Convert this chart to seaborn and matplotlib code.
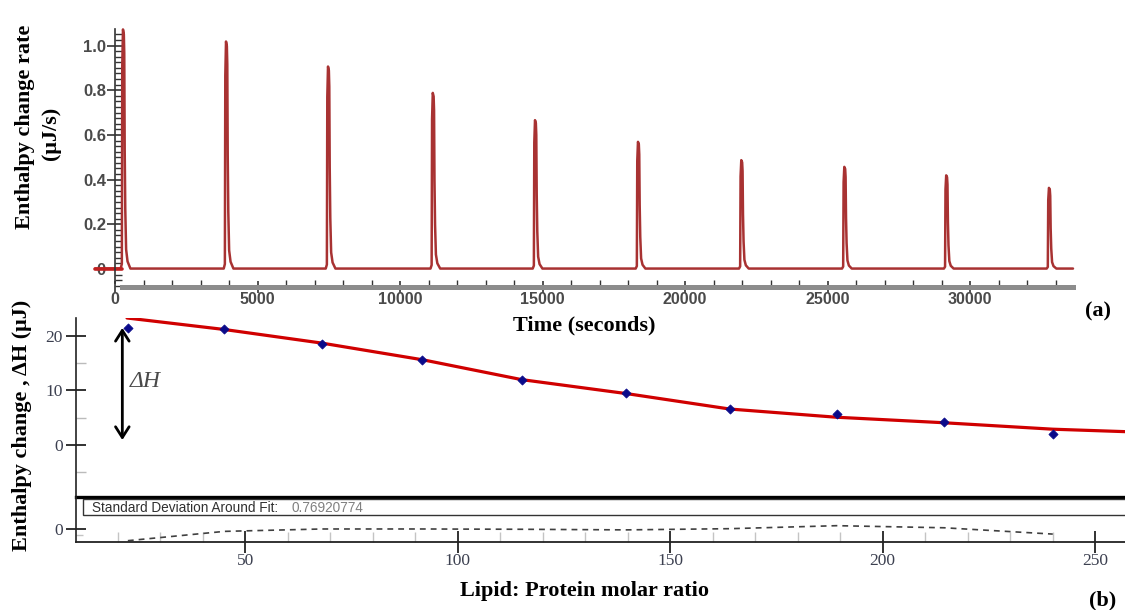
import numpy as np
import pandas as pd
import matplotlib
matplotlib.use("Agg")
import matplotlib.pyplot as plt
import seaborn as sns
from matplotlib.ticker import FixedLocator, MultipleLocator
from matplotlib.patches import Rectangle, FancyArrowPatch

# ---------------- data ----------------
# (a) thermogram: injection peaks
peak_times = [280, 3895, 7474, 11150, 14737, 18350, 21975, 25590, 29165, 32770]
peak_heights = [1.07, 1.016, 0.904, 0.786, 0.664, 0.567, 0.485, 0.455, 0.417, 0.361]
baseline_level = 0.002
trace_start = -700
trace_end = 33614
# shape of one injection spike (time offset in s, fraction of peak height)
spike_dt = [-80, -40, -25, 0, 30, 45, 60, 80, 110, 160, 260]
spike_frac = [0.0, 0.02, 0.85, 1.0, 0.98, 0.9, 0.5, 0.25, 0.08, 0.03, 0.0]

top_major_x = [0, 5000, 10000, 15000, 20000, 25000, 30000]
top_major_y = [0, 0.2, 0.4, 0.6, 0.8, 1.0]
top_ylabels = ["0", "0.2", "0.4", "0.6", "0.8", "1.0"]

# (b) integrated heats vs lipid:protein ratio
ratio = [22.4, 45.1, 68.1, 91.6, 115.2, 139.6, 164.1, 189.2, 214.5, 240.0]
delta_h = [21.4, 21.2, 18.6, 15.6, 11.9, 9.5, 6.6, 5.7, 4.3, 2.0]
fit_ratio = [22.2, 45, 68, 92, 115, 140, 164, 189, 214, 240, 257]
fit_dh = [23.3, 21.2, 18.7, 15.6, 12.0, 9.4, 6.6, 5.1, 4.1, 2.9, 2.45]
residual = [-1.95, -0.4, 0.0, 0.0, -0.05, -0.15, 0.05, 0.55, 0.2, -0.85]
sd_fit = "0.76920774"
bottom_major_x = [50, 100, 150, 200, 250]

# ---------------- build thermogram trace ----------------
t_pts = [trace_start]
r_pts = [baseline_level]
for tp, hp in zip(peak_times, peak_heights):
    for dt, fr in zip(spike_dt, spike_frac):
        t_pts.append(tp + dt)
        r_pts.append(baseline_level + fr * hp)
t_pts.append(trace_end)
r_pts.append(baseline_level)
trace = pd.DataFrame({"time": t_pts, "rate": r_pts})

# ---------------- style ----------------
sns.set_theme(style="ticks")
plt.rcParams["font.family"] = ["Liberation Serif", "DejaVu Serif"]
plt.rcParams["axes.linewidth"] = 1.2

W, H = 1125, 610
fig = plt.figure(figsize=(W / 100, H / 100), dpi=100)


def fx(px):
    return px / W


def fy(py):
    return 1 - py / H


# ---------------- (a) ----------------
ax_a = fig.add_axes([fx(115), fy(287), fx(1073 - 115), (287 - 29) / H])
ax_a.set_facecolor("none")
sns.lineplot(data=trace, x="time", y="rate", ax=ax_a, color="#a83232",
             lw=1.8, estimator=None, sort=False)
for ln in ax_a.lines:
    ln.set_clip_on(False)
pre = pd.DataFrame({"time": [trace_start, peak_times[0] - 40],
                    "rate": [baseline_level, baseline_level]})
sns.lineplot(data=pre, x="time", y="rate", ax=ax_a, color="#c02020", lw=2.6,
             estimator=None, sort=False)
ax_a.lines[-1].set_clip_on(False)

ax_a.set_xlim(0, trace_end)
ax_a.set_ylim(-0.0805, 1.074)
for s in ["top", "right"]:
    ax_a.spines[s].set_visible(False)
ax_a.spines["left"].set_bounds(-0.063, 1.074)
ax_a.spines["left"].set_color("#333333")
ax_a.spines["bottom"].set_bounds(245, trace_end)
ax_a.spines["bottom"].set_color("#8c8c8c")
ax_a.spines["bottom"].set_linewidth(3.6)

ax_a.xaxis.set_major_locator(FixedLocator(top_major_x))
ax_a.xaxis.set_minor_locator(MultipleLocator(1000))
ax_a.yaxis.set_major_locator(FixedLocator(top_major_y))
ax_a.yaxis.set_minor_locator(MultipleLocator(0.025))
ax_a.set_yticklabels(top_ylabels)
ax_a.set_xticklabels([str(v) for v in top_major_x])
ax_a.tick_params(axis="x", which="major", bottom=True, direction="inout", length=9,
                 width=1.2, color="#333333", pad=-1, labelsize=11.5,
                 labelcolor="#4a4a4a")
ax_a.tick_params(axis="x", which="minor", bottom=True, direction="in", length=5,
                 width=1.0, color="#333333")
ax_a.tick_params(axis="y", which="major", left=True, direction="inout", length=11,
                 width=1.2, color="#333333", pad=1, labelsize=12,
                 labelcolor="#4a4a4a")
ax_a.tick_params(axis="y", which="minor", left=True, direction="in", length=5,
                 width=1.0, color="#333333")
for lab in ax_a.get_xticklabels() + ax_a.get_yticklabels():
    lab.set_family(["Liberation Sans", "DejaVu Sans"])
    lab.set_fontweight("bold")
ax_a.set_xlabel("")
ax_a.set_ylabel("")

# ---------------- (b) main ----------------
ax_b = fig.add_axes([fx(76), fy(497), 1 - fx(76), (497 - 318) / H])
ax_b.set_facecolor("none")
sns.lineplot(x=fit_ratio, y=fit_dh, ax=ax_b, color="#d00000", lw=2.3)
sns.scatterplot(x=ratio, y=delta_h, ax=ax_b, marker="D", s=22,
                color="#0a0a8a", edgecolor="#0a0a8a", linewidth=0.5, zorder=5)
ax_b.set_xlim(10.2, 257)
ax_b.set_ylim(-9.54, 23.3)
for s in ["top", "right"]:
    ax_b.spines[s].set_visible(False)
ax_b.spines["left"].set_color("#222222")
ax_b.spines["bottom"].set_color("black")
ax_b.spines["bottom"].set_linewidth(2.4)
ax_b.set_xticks([])
ax_b.yaxis.set_major_locator(FixedLocator([0, 10, 20]))
ax_b.yaxis.set_minor_locator(FixedLocator([-5, 5, 15]))
ax_b.tick_params(axis="y", which="major", left=True, direction="inout", length=15,
                 width=1.3, color="#222222", pad=2, labelsize=12.5,
                 labelcolor="#3c4050")
ax_b.tick_params(axis="y", which="minor", left=True, direction="in", length=7,
                 width=1.0, color="#bbbbbb")
ax_b.set_xlabel("")
ax_b.set_ylabel("")

arrow = FancyArrowPatch((21.1, 0.4), (21.1, 22.0),
                        arrowstyle="<->,head_length=0.55,head_width=0.35",
                        mutation_scale=14, lw=2.0, color="black")
ax_b.add_patch(arrow)
ax_b.text(22.9, 11.6, "ΔH", fontsize=17, style="italic", color="#4a4a4a",
          ha="left", va="center")

# ---------------- (b) residuals ----------------
ax_r = fig.add_axes([fx(76), fy(541.7), 1 - fx(76), (541.7 - 497) / H])
ax_r.set_facecolor("none")
sns.lineplot(x=ratio, y=residual, ax=ax_r, color="#404040", lw=1.2)
ax_r.lines[-1].set_linestyle((0, (3.5, 3)))
ax_r.set_xlim(10.2, 257)
ax_r.set_ylim(-2.12, 5.33)
for s in ["top", "right"]:
    ax_r.spines[s].set_visible(False)
ax_r.spines["left"].set_color("#222222")
ax_r.spines["bottom"].set_color("#222222")
ax_r.spines["bottom"].set_linewidth(1.3)
ax_r.xaxis.set_major_locator(FixedLocator(bottom_major_x))
ax_r.xaxis.set_minor_locator(FixedLocator([v for v in range(20, 251, 10)
                                           if v % 50 != 0]))
ax_r.yaxis.set_major_locator(FixedLocator([0]))
ax_r.yaxis.set_minor_locator(FixedLocator([-1]))
ax_r.tick_params(axis="x", which="major", bottom=True, direction="inout", length=16,
                 width=1.3, color="#222222", pad=0, labelsize=12.5,
                 labelcolor="#3c4050")
ax_r.tick_params(axis="x", which="minor", bottom=True, direction="in", length=7,
                 width=1.0, color="#c4c4c4")
ax_r.tick_params(axis="y", which="major", left=True, direction="inout", length=15,
                 width=1.3, color="#222222", pad=2, labelsize=12.5,
                 labelcolor="#3c4050")
ax_r.tick_params(axis="y", which="minor", left=True, direction="in", length=5,
                 width=1.0, color="#c4c4c4")
ax_r.set_xlabel("")
ax_r.set_ylabel("")

# statistics box
box = Rectangle((fx(83), fy(515)), 1.0, 16 / H, transform=fig.transFigure,
                facecolor="white", edgecolor="#333333", lw=1.0, zorder=3)
fig.patches.append(box)
fig.text(fx(92), fy(507.5), "Standard Deviation Around Fit:", fontsize=9.8,
         family=["Liberation Sans", "DejaVu Sans"], color="#303030",
         ha="left", va="center", zorder=4)
fig.text(fx(292), fy(507.5), sd_fit, fontsize=9.8,
         family=["Liberation Sans", "DejaVu Sans"], color="#808080",
         ha="left", va="center", zorder=4)

# ---------------- labels ----------------
lab_kw = dict(fontsize=16, fontweight="bold", color="black",
              family=["Liberation Serif", "DejaVu Serif"])
fig.text(fx(25), fy(127), "Enthalpy change rate", rotation=90,
         ha="center", va="center", **lab_kw)
fig.text(fx(51), fy(133), "(μJ/s)", rotation=90, ha="center", va="center", **lab_kw)
fig.text(fx(584), fy(325), "Time (seconds)", ha="center", va="center", **lab_kw)
fig.text(fx(1098), fy(311), "(a)", ha="center", va="center", **lab_kw)
fig.text(fx(22), fy(425), "Enthalpy change , ΔH (μJ)", rotation=90,
         ha="center", va="center", **lab_kw)
fig.text(fx(584), fy(591), "Lipid: Protein molar ratio", ha="center",
         va="center", **lab_kw)
fig.text(fx(1103), fy(600), "(b)", ha="center", va="center", **lab_kw)

fig.savefig("out.png", dpi=100)
